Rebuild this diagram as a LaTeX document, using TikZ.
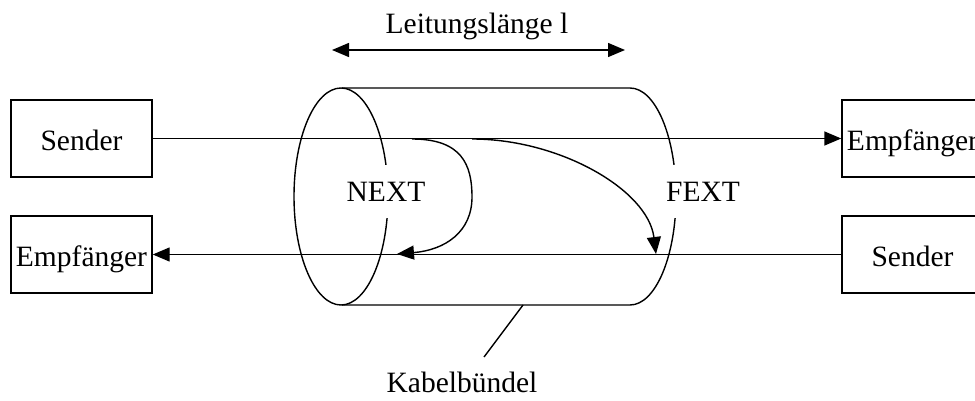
\documentclass[tikz,border=0pt]{standalone}
\usepackage{fontspec}
\setmainfont{Liberation Serif}
\usetikzlibrary{arrows.meta}
\begin{document}
\begin{tikzpicture}[x=1pt,y=-1pt,
  line width=1.4pt,
  every node/.style={font=\fontsize{29.5}{34}\selectfont, inner sep=0pt},
  unitbox/.style={draw, minimum width=141pt, minimum height=77pt,
    text height=23pt, text depth=0pt},
  tip/.style={Triangle[length=17pt,width=14pt]},
  sig/.style={-{Triangle[length=17pt,width=14pt]}},
  gaplabel/.style={fill=white, inner xsep=3pt, inner ysep=17pt, anchor=base},
  caption/.style={anchor=base}]
\useasboundingbox (0,0) rectangle (975,401);
\clip (0,0) rectangle (975,401);

% cable bundle drawn as a cylinder
\draw (341,196.5) ellipse [x radius=47pt, y radius=108.5pt];
\draw (342,88) -- (630,88)
  arc[start angle=90, end angle=-90, x radius=46pt, y radius=108.5pt]
  -- (342,305);

% crosstalk labels interrupt the cylinder outline
\node[gaplabel] (next) at (386,201) {NEXT};
\node[gaplabel] (fext) at (703,201) {FEXT};

% transmitters and receivers
\node[unitbox] (txL) at (81.5,138.5) {Sender};
\node[unitbox] (rxL) at (81.5,254.5) {Empfänger};
\node[unitbox] (rxR) at (912.5,138.5) {Empfänger};
\node[unitbox] (txR) at (912.5,254.5) {Sender};

% signal paths
\draw[sig] (txL.east) -- (rxR.west);
\draw[sig] (txR.west) -- (rxL.east);

% near-end and far-end crosstalk
\coordinate (nS) at (412,139);
\coordinate (nE) at (397,254);
\draw[sig] (nS) .. controls (462,139) and (472,165) .. (472,197)
  .. controls (472,232) and (445,250) .. (nE);
\coordinate (fS) at (472,139);
\coordinate (fE) at (656,254);
\draw[sig] (fS) .. controls (560,139) and (648,190) .. (fE);

% line length
\node[caption] (len) at (477,34) {Leitungslänge l};
\coordinate (lA) at (332,50);
\coordinate (lB) at (625,50);
\draw[{Triangle[length=17pt,width=14pt]}-{Triangle[length=17pt,width=14pt]}] (lA) -- (lB);

% bundle annotation
\node[caption] (kab) at (462,392) {Kabelbündel};
\coordinate (kTop) at (523,305);
\coordinate (kEnd) at (484,357);
\draw (kTop) -- (kEnd);
\end{tikzpicture}
\end{document}
